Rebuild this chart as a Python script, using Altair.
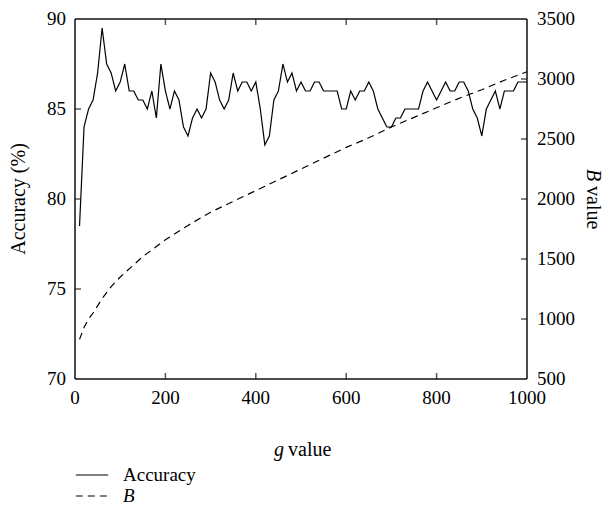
import altair as alt
import pandas as pd

# g values for the accuracy curve
g_acc = list(range(10, 1001, 10))
accuracy = [
    78.5, 84.0, 85.0, 85.5, 87.0, 89.5, 87.5, 87.0, 86.0, 86.5,
    87.5, 86.0, 86.0, 85.5, 85.5, 85.0, 86.0, 84.5, 87.5, 86.0,
    85.0, 86.0, 85.5, 84.0, 83.5, 84.5, 85.0, 84.5, 85.0, 87.0,
    86.5, 85.5, 85.0, 85.5, 87.0, 86.0, 86.5, 86.5, 86.0, 86.5,
    85.0, 83.0, 83.5, 85.5, 86.0, 87.5, 86.5, 87.0, 86.0, 86.5,
    86.0, 86.0, 86.5, 86.5, 86.0, 86.0, 86.0, 86.0, 85.0, 85.0,
    86.0, 85.5, 86.0, 86.0, 86.5, 86.0, 85.0, 84.5, 84.0, 84.0,
    84.5, 84.5, 85.0, 85.0, 85.0, 85.0, 86.0, 86.5, 86.0, 85.5,
    86.0, 86.5, 86.0, 86.0, 86.5, 86.5, 86.0, 85.0, 84.5, 83.5,
    85.0, 85.5, 86.0, 85.0, 86.0, 86.0, 86.0, 86.5, 86.5, 86.5,
]

# B curve
g_b = [10, 20, 30, 40, 60, 80, 100, 150, 200, 250, 300, 350, 400, 450,
       500, 550, 600, 650, 700, 750, 800, 850, 900, 950, 1000]
b_values = [830, 930, 1000, 1050, 1170, 1270, 1350, 1520, 1660, 1780, 1890,
            1980, 2070, 2160, 2250, 2340, 2430, 2510, 2600, 2680, 2760, 2840,
            2910, 2990, 3060]

x_labels = [0, 200, 400, 600, 800, 1000]
x_inner_ticks = [200, 400, 600, 800]
acc_labels = [70, 75, 80, 85, 90]
acc_inner_ticks = [75, 80, 85]
b_labels = [500, 1000, 1500, 2000, 2500, 3000, 3500]
b_inner_ticks = [1000, 1500, 2000, 2500, 3000]

acc_df = pd.DataFrame({"g": g_acc, "v": accuracy, "series": "Accuracy"})
b_df = pd.DataFrame({"g": g_b, "v": b_values, "series": "B"})
xt_df = pd.DataFrame({"t": x_inner_ticks})
at_df = pd.DataFrame({"t": acc_inner_ticks})
bt_df = pd.DataFrame({"t": b_inner_ticks})
xl_df = pd.DataFrame({"t": x_labels})
al_df = pd.DataFrame({"t": acc_labels})
bl_df = pd.DataFrame({"t": b_labels})
one_df = pd.DataFrame({"k": [0]})

FONT = "Liberation Serif"
TICK_FS = 19
TITLE_FS = 20
TICK = 6
LW = 1.2
FRAME_W = 1.5
FRAME_C = "#111111"

xscale = alt.Scale(domain=[0, 1000], nice=False)
ascale = alt.Scale(domain=[70, 90], nice=False)
bscale = alt.Scale(domain=[500, 3500], nice=False)


def X(**kw):
    return alt.X(scale=xscale, axis=None, **kw)


def YA(**kw):
    return alt.Y(scale=ascale, axis=None, **kw)


def YB(**kw):
    return alt.Y(scale=bscale, axis=None, **kw)


def txt(**kw):
    base = dict(font=FONT, color="black")
    base.update(kw)
    return base


def legend(y, style):
    return alt.Legend(
        title=None,
        orient="none",
        legendX=0,
        legendY=y,
        symbolType="stroke",
        symbolSize=1050,
        symbolStrokeWidth=LW,
        symbolStrokeColor="black",
        labelFont=FONT,
        labelFontSize=19,
        labelColor="black",
        labelFontStyle=style,
        labelOffset=14,
        padding=0,
    )


# ---- left-scale group ----
bottom_labels = alt.Chart(xl_df).mark_text(
    **txt(fontSize=TICK_FS, baseline="top", align="center", dy=10)
).encode(x=X(field="t", type="quantitative"), y=YA(datum=70), text="t:Q")

left_labels = alt.Chart(al_df).mark_text(
    **txt(fontSize=TICK_FS, baseline="middle", align="right", dx=-9)
).encode(y=YA(field="t", type="quantitative"), x=X(datum=0), text="t:Q")

x_title_g = alt.Chart(one_df).mark_text(
    **txt(text="g", fontSize=TITLE_FS, fontStyle="italic", baseline="middle",
          align="right", dx=-17, dy=71)
).encode(x=X(datum=500), y=YA(datum=70))

x_title_rest = alt.Chart(one_df).mark_text(
    **txt(text="value", fontSize=TITLE_FS, baseline="middle",
          align="left", dx=-13, dy=71)
).encode(x=X(datum=500), y=YA(datum=70))

y_title_left = alt.Chart(one_df).mark_text(
    **txt(text="Accuracy (%)", fontSize=TITLE_FS, baseline="middle",
          align="center", angle=270, dy=-56)
).encode(x=X(datum=0), y=YA(datum=80))

acc_line = alt.Chart(acc_df).mark_line(color="black", strokeWidth=LW).encode(
    x=X(field="g", type="quantitative"),
    y=YA(field="v", type="quantitative"),
    strokeDash=alt.StrokeDash(
        "series:N",
        scale=alt.Scale(domain=["Accuracy"], range=[[1, 0]]),
        legend=legend(439, "normal"),
    ),
)

bottom_ticks = alt.Chart(xt_df).mark_tick(
    orient="vertical", size=TICK, thickness=FRAME_W, color=FRAME_C, yOffset=-TICK / 2
).encode(x=X(field="t", type="quantitative"), y=YA(datum=70))

top_ticks = alt.Chart(xt_df).mark_tick(
    orient="vertical", size=TICK, thickness=FRAME_W, color=FRAME_C, yOffset=TICK / 2
).encode(x=X(field="t", type="quantitative"), y=YA(datum=90))

left_ticks = alt.Chart(at_df).mark_tick(
    orient="horizontal", size=TICK, thickness=FRAME_W, color=FRAME_C, xOffset=TICK / 2
).encode(y=YA(field="t", type="quantitative"), x=X(datum=0))

left_group = alt.layer(
    bottom_labels, left_labels, x_title_g, x_title_rest, y_title_left,
    acc_line, bottom_ticks, top_ticks, left_ticks,
)

# ---- right-scale group ----
right_labels = alt.Chart(bl_df).mark_text(
    **txt(fontSize=TICK_FS, baseline="middle", align="left", dx=10)
).encode(y=YB(field="t", type="quantitative"), x=X(datum=1000), text="t:Q")

y_title_b = alt.Chart(one_df).mark_text(
    **txt(text="B", fontSize=TITLE_FS, fontStyle="italic", baseline="middle",
          align="left", angle=90, dx=-30, dy=-66)
).encode(x=X(datum=1000), y=YB(datum=2000))

y_title_rest = alt.Chart(one_df).mark_text(
    **txt(text="value", fontSize=TITLE_FS, baseline="middle",
          align="left", angle=90, dx=-13, dy=-66)
).encode(x=X(datum=1000), y=YB(datum=2000))

b_line = alt.Chart(b_df).mark_line(color="black", strokeWidth=LW).encode(
    x=X(field="g", type="quantitative"),
    y=YB(field="v", type="quantitative"),
    strokeDash=alt.StrokeDash(
        "series:N",
        scale=alt.Scale(domain=["B"], range=[[7, 5]]),
        legend=legend(460, "italic"),
    ),
)

right_ticks = alt.Chart(bt_df).mark_tick(
    orient="horizontal", size=TICK, thickness=FRAME_W, color=FRAME_C, xOffset=-TICK / 2
).encode(y=YB(field="t", type="quantitative"), x=X(datum=1000))

# frame edges drawn last, on top of everything
left_edge = alt.Chart(one_df).mark_rule(color=FRAME_C, strokeWidth=FRAME_W).encode(
    x=X(datum=0), y=YB(datum=500), y2=alt.Y2(datum=3500))
right_edge = alt.Chart(one_df).mark_rule(color=FRAME_C, strokeWidth=FRAME_W).encode(
    x=X(datum=1000), y=YB(datum=500), y2=alt.Y2(datum=3500))
bottom_edge = alt.Chart(one_df).mark_rule(color=FRAME_C, strokeWidth=FRAME_W).encode(
    y=YB(datum=500), x=X(datum=0), x2=alt.X2(datum=1000))
top_edge = alt.Chart(one_df).mark_rule(color=FRAME_C, strokeWidth=FRAME_W).encode(
    y=YB(datum=3500), x=X(datum=0), x2=alt.X2(datum=1000))

right_group = alt.layer(
    right_labels, y_title_b, y_title_rest, b_line, right_ticks,
    left_edge, right_edge, bottom_edge, top_edge,
)

chart = (
    alt.layer(left_group, right_group)
    .resolve_scale(y="independent", strokeDash="independent")
    .resolve_legend(strokeDash="independent")
    .properties(
        width=452,
        height=360,
        autosize=alt.AutoSizeParams(type="none"),
        padding={"left": 67, "top": 11, "right": 77, "bottom": 126},
    )
    .configure_view(stroke=None)
)

chart.save("out.html", embed_options={"renderer": "svg", "actions": False})
